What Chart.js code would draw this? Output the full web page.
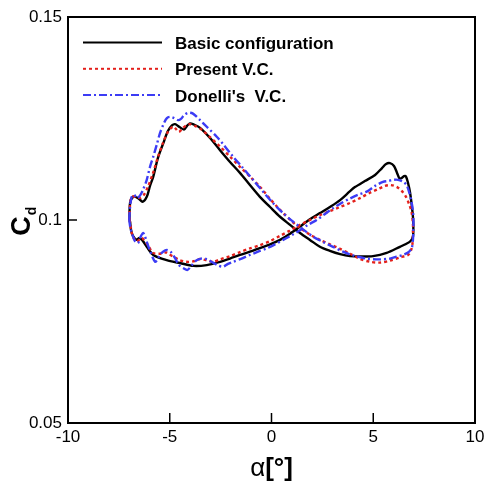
<!DOCTYPE html>
<html>
<head>
<meta charset="utf-8">
<script src="https://cdn.jsdelivr.net/npm/chart.js@4.4.1/dist/chart.umd.min.js"></script>
<style>
  html, body { margin: 0; padding: 0; background: #fff; }
  #wrap { width: 484px; height: 486px; position: relative; }
</style>
</head>
<body>
<div id="wrap"><canvas id="myChart"></canvas></div>
<script>
const xTicks = [-10, -5, 0, 5, 10];
const yTicks = [0.05, 0.1, 0.15];
const yTickLabels = ["0.05", "0.1", "0.15"];

const seriesNames = ["Basic configuration", "Present V.C.", "Donelli's  V.C."];

// Basic configuration (closed loop)
const basicAlpha = [-6.98, -6.95, -6.80, -6.56, -6.33, -6.13, -5.97, -5.81, -5.58, -5.32, -5.09, -4.89, -4.74, -4.55, -4.30, -4.15, -4.01, -3.81, -3.51, -3.02, -2.53, -2.04, -1.55, -1.06, -0.57, -0.07, 0.42, 0.91, 1.40, 1.89, 2.38, 2.87, 3.37, 3.86, 4.35, 4.99, 5.66, 6.31, 6.61, 6.81, 6.95, 6.97, 6.95, 6.89, 6.81, 6.71, 6.61, 6.51, 6.39, 6.28, 6.17, 6.02, 5.82, 5.63, 5.43, 5.09, 4.59, 4.10, 3.86, 3.37, 2.87, 2.38, 1.89, 1.40, 0.91, 0.42, -0.07, -0.57, -1.06, -1.55, -2.04, -2.53, -3.18, -3.84, -4.50, -5.15, -5.81, -6.13, -6.36, -6.51, -6.62, -6.81, -6.90, -6.95];
const basicCd = [0.1000, 0.1042, 0.1057, 0.1054, 0.1045, 0.1057, 0.1084, 0.1107, 0.1153, 0.1189, 0.1219, 0.1233, 0.1236, 0.1230, 0.1223, 0.1232, 0.1238, 0.1235, 0.1227, 0.1202, 0.1172, 0.1143, 0.1116, 0.1086, 0.1057, 0.1032, 0.1008, 0.0988, 0.0968, 0.0951, 0.0934, 0.0924, 0.0916, 0.0911, 0.0910, 0.0911, 0.0919, 0.0934, 0.0941, 0.0947, 0.0959, 0.0988, 0.1008, 0.1037, 0.1067, 0.1091, 0.1107, 0.1108, 0.1103, 0.1103, 0.1116, 0.1133, 0.1140, 0.1138, 0.1128, 0.1111, 0.1096, 0.1081, 0.1071, 0.1049, 0.1032, 0.1017, 0.1002, 0.0984, 0.0966, 0.0951, 0.0940, 0.0931, 0.0922, 0.0914, 0.0905, 0.0897, 0.0889, 0.0887, 0.0894, 0.0901, 0.0914, 0.0934, 0.0951, 0.0956, 0.0951, 0.0961, 0.0975, 0.0995];

// Present V.C.
const presentAlpha = [-6.98, -6.95, -6.86, -6.66, -6.46, -6.27, -6.07, -5.82, -5.58, -5.33, -5.09, -4.84, -4.69, -4.55, -4.35, -4.15, -4.01, -3.76, -3.42, -3.02, -2.53, -2.04, -1.55, -1.06, -0.57, -0.07, 0.42, 0.91, 1.40, 1.89, 2.38, 2.87, 3.37, 3.86, 4.35, 4.84, 5.33, 5.82, 6.31, 6.71, 6.86, 6.93, 6.95, 6.95, 6.88, 6.76, 6.61, 6.41, 6.17, 5.87, 5.58, 5.23, 4.84, 4.35, 3.86, 3.37, 2.87, 2.38, 1.89, 1.40, 0.91, 0.42, -0.07, -0.57, -1.06, -1.55, -2.04, -2.53, -2.87, -3.22, -3.51, -3.86, -4.17, -4.50, -4.84, -5.04, -5.18, -5.48, -5.82, -6.07, -6.27, -6.38, -6.51, -6.62, -6.81, -6.90, -6.95];
const presentCd = [0.1000, 0.1037, 0.1057, 0.1057, 0.1054, 0.1062, 0.1082, 0.1116, 0.1155, 0.1190, 0.1217, 0.1230, 0.1224, 0.1217, 0.1227, 0.1234, 0.1236, 0.1232, 0.1222, 0.1204, 0.1181, 0.1156, 0.1131, 0.1107, 0.1082, 0.1052, 0.1025, 0.1001, 0.0980, 0.0964, 0.0951, 0.0940, 0.0929, 0.0917, 0.0904, 0.0897, 0.0895, 0.0900, 0.0908, 0.0914, 0.0926, 0.0943, 0.0970, 0.0990, 0.1020, 0.1039, 0.1057, 0.1071, 0.1081, 0.1086, 0.1084, 0.1076, 0.1067, 0.1054, 0.1042, 0.1032, 0.1022, 0.1012, 0.1000, 0.0988, 0.0974, 0.0961, 0.0948, 0.0938, 0.0930, 0.0921, 0.0911, 0.0903, 0.0897, 0.0901, 0.0904, 0.0898, 0.0897, 0.0901, 0.0910, 0.0916, 0.0920, 0.0917, 0.0919, 0.0938, 0.0951, 0.0956, 0.0951, 0.0947, 0.0959, 0.0978, 0.0995];

// Donelli's V.C.
const donelliAlpha = [-6.99, -6.95, -6.87, -6.76, -6.61, -6.44, -6.30, -6.13, -5.97, -5.81, -5.63, -5.48, -5.28, -5.14, -4.99, -4.79, -4.59, -4.45, -4.28, -4.09, -3.86, -3.51, -3.17, -2.69, -2.38, -1.89, -1.40, -0.91, -0.42, 0.07, 0.57, 1.06, 1.55, 2.04, 2.53, 3.02, 3.51, 4.00, 4.68, 5.33, 5.82, 6.15, 6.46, 6.71, 6.89, 6.95, 6.97, 6.97, 6.93, 6.86, 6.76, 6.64, 6.48, 6.22, 5.99, 5.72, 5.48, 5.09, 4.68, 4.25, 3.86, 3.44, 3.02, 2.63, 2.22, 1.79, 1.40, 1.01, 0.57, 0.17, -0.24, -0.66, -1.06, -1.47, -1.89, -2.14, -2.38, -2.63, -2.87, -3.22, -3.46, -3.68, -3.91, -4.13, -4.32, -4.55, -4.74, -4.94, -5.14, -5.33, -5.48, -5.63, -5.72, -5.85, -5.97, -6.13, -6.24, -6.31, -6.44, -6.56, -6.71, -6.83, -6.93];
const donelliCd = [0.1000, 0.1033, 0.1057, 0.1062, 0.1054, 0.1062, 0.1076, 0.1099, 0.1131, 0.1156, 0.1187, 0.1214, 0.1239, 0.1251, 0.1254, 0.1251, 0.1246, 0.1249, 0.1259, 0.1264, 0.1262, 0.1246, 0.1229, 0.1205, 0.1187, 0.1156, 0.1128, 0.1099, 0.1070, 0.1042, 0.1017, 0.0996, 0.0977, 0.0959, 0.0946, 0.0934, 0.0922, 0.0913, 0.0905, 0.0903, 0.0905, 0.0910, 0.0914, 0.0920, 0.0931, 0.0951, 0.0975, 0.1008, 0.1030, 0.1049, 0.1069, 0.1086, 0.1094, 0.1099, 0.1099, 0.1096, 0.1094, 0.1084, 0.1070, 0.1062, 0.1053, 0.1042, 0.1029, 0.1015, 0.1000, 0.0988, 0.0975, 0.0963, 0.0951, 0.0940, 0.0930, 0.0922, 0.0914, 0.0905, 0.0897, 0.0892, 0.0885, 0.0888, 0.0895, 0.0904, 0.0905, 0.0901, 0.0889, 0.0877, 0.0881, 0.0889, 0.0906, 0.0921, 0.0926, 0.0922, 0.0914, 0.0901, 0.0897, 0.0909, 0.0924, 0.0946, 0.0963, 0.0968, 0.0958, 0.0943, 0.0948, 0.0963, 0.0980];

const FONT = "'Liberation Sans', Arial, sans-serif";

// join x/y arrays into a closed loop
const toLoop = (xs, ys) => {
  const pts = xs.map((x, i) => ({ x, y: ys[i] }));
  pts.push({ ...pts[0] });
  return pts;
};

const decorPlugin = {
  id: "decor",
  afterDraw(chart) {
    const { ctx, chartArea: a, scales } = chart;
    ctx.save();
    ctx.setLineDash([]);
    ctx.strokeStyle = "#000";
    ctx.fillStyle = "#000";

    // frame
    ctx.lineWidth = 2;
    ctx.strokeRect(a.left, a.top, a.right - a.left, a.bottom - a.top);

    // inward tick marks
    ctx.lineWidth = 1.5;
    ctx.beginPath();
    xTicks.forEach(v => {
      const px = scales.x.getPixelForValue(v);
      ctx.moveTo(px, a.bottom);
      ctx.lineTo(px, a.bottom - 10);
    });
    yTicks.forEach(v => {
      const py = scales.y.getPixelForValue(v);
      ctx.moveTo(a.left, py);
      ctx.lineTo(a.left + 9, py);
    });
    ctx.stroke();

    // x title: α[°]
    const cx = (a.left + a.right) / 2;
    ctx.textBaseline = "alphabetic";
    ctx.textAlign = "left";
    ctx.font = "26px " + FONT;
    const wA = ctx.measureText("α").width;
    ctx.font = "bold 26px " + FONT;
    const wB = ctx.measureText("[°]").width;
    const x0 = cx - (wA + wB) / 2;
    ctx.font = "26px " + FONT;
    ctx.fillText("α", x0, 476);
    ctx.font = "bold 26px " + FONT;
    ctx.fillText("[°]", x0 + wA, 476);

    // y title: C_d, rotated
    ctx.save();
    ctx.translate(30, 222);
    ctx.rotate(-Math.PI / 2);
    ctx.font = "bold 27px " + FONT;
    const wC = ctx.measureText("C").width;
    ctx.fillText("C", -wC / 2 - 4, 0);
    ctx.font = "bold 14px " + FONT;
    ctx.fillText("d", wC / 2 - 3, 6);
    ctx.restore();

    // legend
    chart.data.datasets.forEach((ds, i) => {
      const y = 42.5 + i * 26.3;
      ctx.save();
      ctx.strokeStyle = ds.borderColor;
      ctx.lineWidth = 2;
      ctx.setLineDash(ds.borderDash || []);
      ctx.beginPath();
      ctx.moveTo(83, y);
      ctx.lineTo(162, y);
      ctx.stroke();
      ctx.restore();
      ctx.font = "bold 17px " + FONT;
      ctx.fillStyle = "#000";
      ctx.fillText(ds.label, 175, y + 6.5);
    });

    ctx.restore();
  }
};

const createChart = () => {
  const myChart = document.getElementById("myChart").getContext("2d");

  return new Chart(myChart, {
    type: "scatter",
    data: {
      datasets: [
        {
          label: seriesNames[0],
          data: toLoop(basicAlpha, basicCd),
          borderColor: "#000000",
          borderWidth: 2.4,
          order: 3
        },
        {
          label: seriesNames[1],
          data: toLoop(presentAlpha, presentCd),
          borderColor: "#e3201b",
          borderWidth: 2.4,
          borderDash: [3, 3],
          order: 2
        },
        {
          label: seriesNames[2],
          data: toLoop(donelliAlpha, donelliCd),
          borderColor: "#3c3cf5",
          borderWidth: 2.4,
          borderDash: [8, 3, 2, 3],
          order: 1
        }
      ].map(ds => ({ ...ds, showLine: true, pointRadius: 0, tension: 0.3, fill: false }))
    },
    options: {
      responsive: true,
      maintainAspectRatio: false,
      animation: false,
      layout: { padding: { left: 0, top: 17, right: 9, bottom: 0 } },
      plugins: {
        legend: { display: false },
        tooltip: { enabled: false }
      },
      scales: {
        x: {
          type: "linear",
          min: -10,
          max: 10,
          afterBuildTicks: (scale) => { scale.ticks = xTicks.map(v => ({ value: v })); },
          afterFit: (scale) => {
            scale.height = 63;
            scale.paddingLeft = 0;
            scale.paddingRight = 0;
          },
          grid: { display: false, drawTicks: false },
          border: { display: false },
          ticks: {
            padding: 4,
            color: "#000",
            font: { family: FONT, size: 17 },
            callback: (v) => String(v)
          }
        },
        y: {
          type: "linear",
          min: 0.05,
          max: 0.15,
          afterBuildTicks: (scale) => { scale.ticks = yTicks.map(v => ({ value: v })); },
          afterFit: (scale) => {
            scale.width = 68;
            scale.paddingTop = 0;
            scale.paddingBottom = 0;
          },
          grid: { display: false, drawTicks: false },
          border: { display: false },
          ticks: {
            padding: 6,
            color: "#000",
            font: { family: FONT, size: 17 },
            callback: (v, i) => yTickLabels[i]
          }
        }
      }
    },
    plugins: [decorPlugin]
  });
};

createChart();
</script>
</body>
</html>
